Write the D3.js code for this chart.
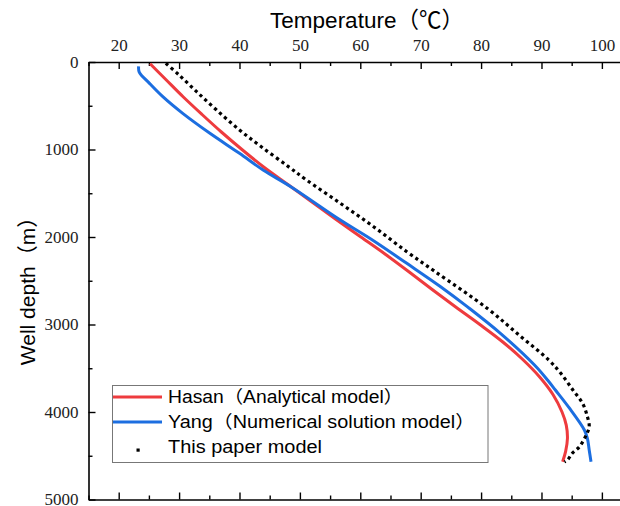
<!DOCTYPE html>
<html>
<head>
<meta charset="utf-8">
<script src="https://cdn.jsdelivr.net/npm/d3@7"></script>
<style>
  body { margin: 0; background: #fff; }
  svg { display: block; }
</style>
</head>
<body>
<div id="chart"></div>
<script>
// values (depth in m, temperature in ℃)
const hasanDepth = [20, 200, 400, 600, 800, 1000, 1200, 1400, 1600, 1800, 2000, 2200, 2400, 2600, 2800, 3000, 3200, 3400, 3600, 3800, 4000, 4150, 4300, 4450, 4568];
const hasanTemp  = [25.2, 27.8, 30.7, 33.8, 37.0, 40.4, 44.0, 48.0, 52.0, 56.0, 60.1, 64.2, 68.1, 71.9, 75.8, 79.8, 83.6, 86.9, 89.7, 91.9, 93.4, 94.1, 94.3, 94.0, 93.5];

const yangDepth = [50, 115, 244, 396, 587, 815, 1044, 1234, 1425, 1806, 2034, 2301, 2568, 2796, 3101, 3460, 3634, 3749, 3954, 4206, 4301, 4434, 4568];
const yangTemp  = [23.3, 23.4, 25.1, 27.3, 30.6, 35.1, 40.0, 43.9, 48.5, 56.7, 62.0, 67.7, 73.3, 77.7, 83.2, 88.8, 91.0, 92.3, 94.6, 97.1, 97.6, 97.9, 98.2];

const paperDepth = [15, 149, 339, 549, 777, 968, 1196, 1349, 1615, 1882, 2168, 2396, 2815, 3139, 3406, 3558, 3749, 3901, 4053, 4168, 4263, 4396, 4472, 4549, 4570];
const paperTemp  = [27.8, 30.0, 32.9, 36.2, 40.0, 43.6, 48.1, 51.1, 56.7, 62.2, 67.7, 72.4, 81.0, 86.6, 91.2, 93.2, 95.2, 96.8, 97.6, 97.9, 97.4, 96.3, 95.1, 94.3, 93.8];

const xTicks = [20, 30, 40, 50, 60, 70, 80, 90, 100];
const yTicks = [0, 1000, 2000, 3000, 4000, 5000];
const legendLabels = ['Hasan（Analytical model）', 'Yang（Numerical solution model）', 'This paper model'];

const width = 620, height = 506;
const margin = { top: 62, right: 0, bottom: 6.5, left: 88.5 };
const sans = "'Liberation Sans', Arial, 'Noto Sans CJK SC', sans-serif";
const serif = "'Liberation Serif', 'Times New Roman', serif";

const svg = d3.select('#chart').append('svg')
  .attr('width', width)
  .attr('height', height);

const x = d3.scaleLinear().domain([15, 103]).range([margin.left, width - margin.right]);
const y = d3.scaleLinear().domain([0, 5000]).range([margin.top, height - margin.bottom]);

// axes: top with labels, left with labels, bottom ticks only, all ticks inward
const minorX = d3.range(15, 103, 5).filter(v => v % 10 !== 0);
const minorY = d3.range(500, 5000, 1000);

function styleAxis(g) {
  g.select('.domain').attr('stroke', '#000').attr('stroke-width', 1.6);
  g.selectAll('.tick line').attr('stroke', '#000').attr('stroke-width', 1.4);
}

function styleLabels(g) {
  g.selectAll('.tick text')
    .style('font-family', serif)
    .style('font-size', '17px')
    .attr('fill', '#222');
}

svg.append('g')
  .attr('transform', `translate(0,${margin.top})`)
  .call(d3.axisTop(x).tickValues(xTicks).tickSizeInner(-7).tickSizeOuter(0).tickPadding(11))
  .call(styleAxis)
  .call(styleLabels);

svg.append('g')
  .attr('transform', `translate(0,${margin.top})`)
  .call(d3.axisTop(x).tickValues(minorX).tickSize(-4).tickFormat(''))
  .call(styleAxis)
  .call(g => g.select('.domain').remove());

svg.append('g')
  .attr('transform', `translate(0,${height - margin.bottom})`)
  .call(d3.axisBottom(x).tickValues(xTicks).tickSizeInner(-7).tickSizeOuter(0).tickFormat(''))
  .call(styleAxis);

svg.append('g')
  .attr('transform', `translate(0,${height - margin.bottom})`)
  .call(d3.axisBottom(x).tickValues(minorX).tickSize(-4).tickFormat(''))
  .call(styleAxis)
  .call(g => g.select('.domain').remove());

svg.append('g')
  .attr('transform', `translate(${margin.left},0)`)
  .call(d3.axisLeft(y).tickValues(yTicks).tickSizeInner(-7).tickSizeOuter(0).tickPadding(10).tickFormat(d3.format('d')))
  .call(styleAxis)
  .call(styleLabels);

svg.append('g')
  .attr('transform', `translate(${margin.left},0)`)
  .call(d3.axisLeft(y).tickValues(minorY).tickSize(-4).tickFormat(''))
  .call(styleAxis)
  .call(g => g.select('.domain').remove());

// axis titles
svg.append('text')
  .attr('x', 367).attr('y', 28)
  .attr('text-anchor', 'middle')
  .style('font-family', sans).style('font-size', '22.5px')
  .attr('fill', '#000')
  .text('Temperature（℃）');

svg.append('text')
  .attr('transform', 'translate(35,286) rotate(-90)')
  .attr('text-anchor', 'middle')
  .style('font-family', sans).style('font-size', '21px')
  .attr('fill', '#000')
  .text('Well depth（m）');

// series
const line = d3.line()
  .x(d => x(d[1]))
  .y(d => y(d[0]))
  .curve(d3.curveCatmullRom.alpha(0.5));

const hasan = d3.zip(hasanDepth, hasanTemp);
const yang = d3.zip(yangDepth, yangTemp);
const paper = d3.zip(paperDepth, paperTemp);

svg.append('path')
  .datum(hasan)
  .attr('d', line)
  .attr('fill', 'none')
  .attr('stroke', '#EE3B3E')
  .attr('stroke-width', 3);

svg.append('path')
  .datum(yang)
  .attr('d', line)
  .attr('fill', 'none')
  .attr('stroke', '#1C6EE0')
  .attr('stroke-width', 3);

svg.append('path')
  .datum(paper)
  .attr('d', line)
  .attr('fill', 'none')
  .attr('stroke', '#000')
  .attr('stroke-width', 3.2)
  .attr('stroke-dasharray', '3.2,3.4');

// legend
const legend = svg.append('g');
legend.append('rect')
  .attr('x', 112.5).attr('y', 385.5)
  .attr('width', 375.5).attr('height', 77)
  .attr('fill', '#fff')
  .attr('stroke', '#777')
  .attr('stroke-width', 1);

const rowY = [397, 422, 447];
const swatch = ['#EE3B3E', '#1C6EE0'];
swatch.forEach((c, i) => {
  legend.append('line')
    .attr('x1', 113).attr('x2', 162)
    .attr('y1', rowY[i]).attr('y2', rowY[i])
    .attr('stroke', c).attr('stroke-width', 3);
});
legend.append('rect')
  .attr('x', 136.5).attr('y', rowY[2] + 1.5)
  .attr('width', 3.2).attr('height', 3.2)
  .attr('fill', '#000');

// the reference legend text is a little wider than Arial, stretch to its widths
const legendWidths = [235, 307, 154];
legend.selectAll('text.lbl')
  .data(legendLabels)
  .enter()
  .append('text')
  .attr('class', 'lbl')
  .attr('x', 168)
  .attr('y', (d, i) => rowY[i] + 6)
  .attr('textLength', (d, i) => legendWidths[i])
  .attr('lengthAdjust', 'spacingAndGlyphs')
  .style('font-family', sans).style('font-size', '17.5px')
  .attr('fill', '#000')
  .text(d => d);
</script>
</body>
</html>
